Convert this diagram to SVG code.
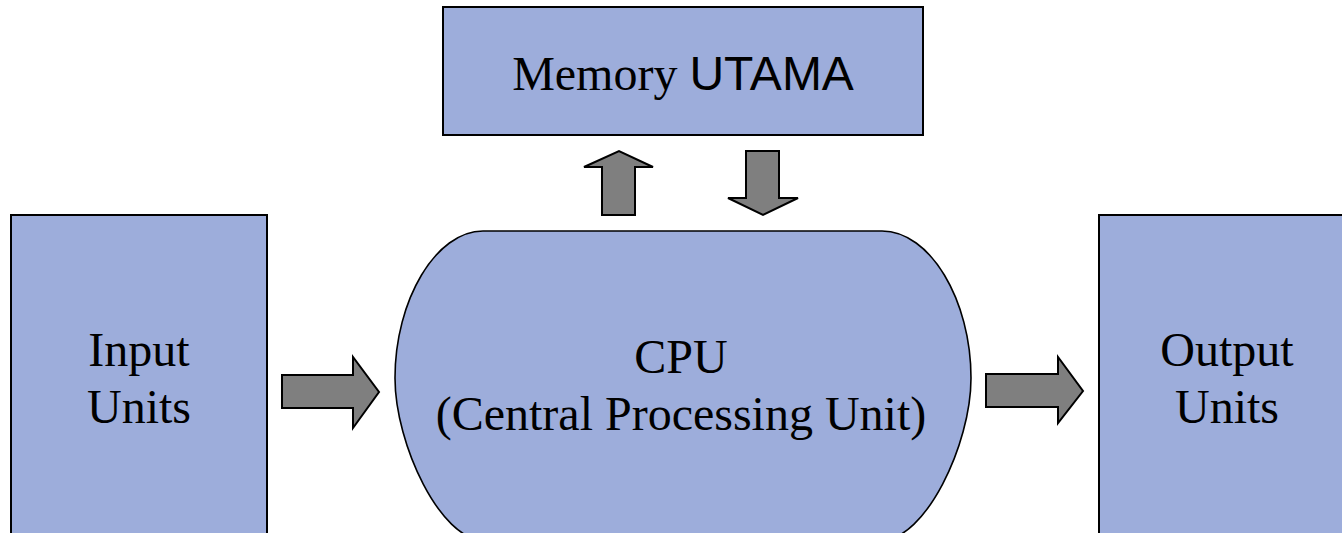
<svg xmlns="http://www.w3.org/2000/svg" width="1342" height="533" viewBox="0 0 1342 533">
<style>
.box{fill:#9daddb;stroke:#000;stroke-width:2}
.arr{fill:#7f7f7f;stroke:#000;stroke-width:2;stroke-linejoin:miter}
.t{font-family:"Liberation Serif","Times New Roman",serif;font-size:48px;fill:#000;text-anchor:middle}
.s{font-family:"Liberation Sans",Arial,sans-serif}
</style>
<rect width="1342" height="533" fill="#fff"/>
<g id="memory">
<rect class="box" x="443" y="7" width="480" height="128"/>
<text class="t" x="683" y="90">Memory <tspan class="s">UTAMA</tspan></text>
</g>
<g id="input">
<rect class="box" x="11" y="215" width="256" height="330"/>
<text class="t" x="139" y="366">Input</text>
<text class="t" x="139" y="423">Units</text>
</g>
<g id="output">
<rect class="box" x="1099" y="215" width="260" height="330"/>
<text class="t" x="1227" y="366">Output</text>
<text class="t" x="1227" y="423">Units</text>
</g>
<g id="cpu">
<path class="box" style="stroke-width:1.6" d="M483,231 L882,231 C930,231 971,300 971,378 C971,445 925,540 882,540 L483,540 C441,540 395,445 395,378 C395,300 436,231 483,231 Z"/>
<text class="t" x="681" y="373">CPU</text>
<text class="t" x="681" y="430">(Central Processing Unit)</text>
</g>
<g id="connectors">
<path class="arr" d="M282,375 L353,375 L353,357 L379,392 L353,428 L353,408 L282,408 Z"/>
<path class="arr" d="M986,374 L1058,374 L1058,357 L1083,391 L1058,423 L1058,407 L986,407 Z"/>
<path class="arr" d="M602,215 L602,167 L584,167 L619,151 L653,167 L635,167 L635,215 Z"/>
<path class="arr" d="M746,151 L779,151 L779,198 L798,198 L763,215 L728,198 L746,198 Z"/>
</g>
</svg>
